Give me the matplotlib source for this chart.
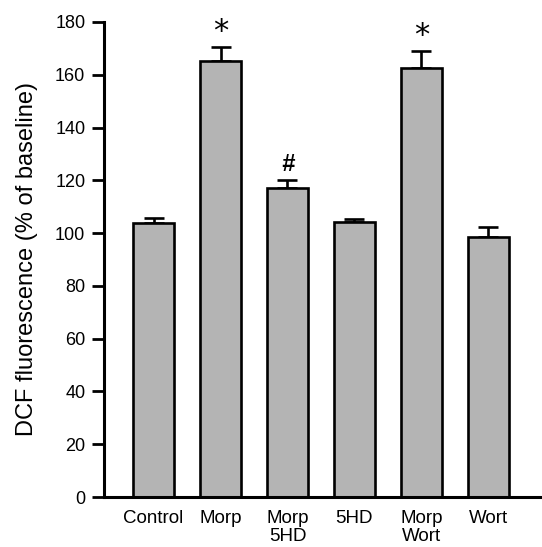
import matplotlib
matplotlib.use("Agg")
import matplotlib.pyplot as plt
import numpy as np

categories = ["Control", "Morp", "Morp\n5HD", "5HD", "Morp\nWort", "Wort"]
means = [103.8, 165.3, 117.0, 104.2, 162.5, 98.5]
errors = [1.9, 5.3, 3.0, 1.2, 6.5, 3.7]
marks = ["", "*", "#", "", "*", ""]
yticks = [0, 20, 40, 60, 80, 100, 120, 140, 160, 180]

plt.rcParams['font.family'] = ['Liberation Sans', 'DejaVu Sans']

fig = plt.figure(figsize=(5.42, 5.47), dpi=100)
ax = fig.add_axes([0.192, 0.0914, 0.804, 0.8684])

x = np.arange(len(categories))
ax.bar(x, means, width=0.61, color='#b4b4b4', edgecolor='black', linewidth=1.9, zorder=2)
ax.errorbar(x, means, yerr=[np.zeros(len(errors)), errors], fmt='none', ecolor='black',
            elinewidth=1.9, capsize=7.5, capthick=1.9, zorder=1)

for xi, m, e, mk in zip(x, means, errors, marks):
    if mk == "*":
        ax.text(xi, m + e + 0.3, mk, ha='center', va='bottom', fontsize=22,
                family='DejaVu Sans', fontweight='normal')
    elif mk == "#":
        ax.text(xi, m + e + 1.8, mk, ha='center', va='bottom', fontsize=17,
                fontweight='bold', style='italic')

ax.set_xlim(-0.74, 5.77)
ax.set_ylim(0, 180)
ax.set_yticks(yticks)
ax.set_xticks(x)
ax.set_xticklabels(categories, fontsize=13.5, linespacing=1.12, va='top')
ax.tick_params(axis='x', length=0, pad=9)
ax.tick_params(axis='y', length=8.5, width=2.0, pad=5, labelsize=13)

ax.spines['top'].set_visible(False)
ax.spines['right'].set_visible(False)
ax.spines['left'].set_linewidth(2.2)
ax.spines['bottom'].set_linewidth(2.2)

ax.set_ylabel("DCF fluorescence (% of baseline)", fontsize=17)
ax.yaxis.set_label_coords(-0.152, 0.5)

fig.savefig("out.png", dpi=100)
